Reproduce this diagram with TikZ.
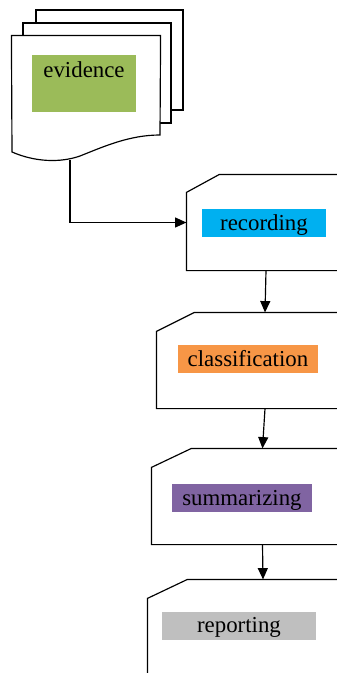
\documentclass[tikz,border=0pt]{standalone}
\usepackage{fontspec}
\setmainfont{Liberation Serif}
\usetikzlibrary{arrows.meta,calc,fit,positioning}
\definecolor{evgreen}{RGB}{155,187,89}
\definecolor{recblue}{RGB}{0,176,240}
\definecolor{clsorange}{RGB}{247,150,70}
\definecolor{sumpurple}{RGB}{128,100,162}
\definecolor{repgray}{RGB}{191,191,191}
\tikzstyle{frame} = [rectangle, inner sep=0pt, draw=none]
\tikzstyle{tag} = [rectangle, inner sep=0pt, text height=0.63cm, text depth=0.21cm, font=\fontsize{19.5}{23}\selectfont]
\tikzstyle{flow} = [-{Triangle[length=0.34cm, width=0.3cm]}]

\begin{document}
\begin{tikzpicture}[x=0.03cm, y=-0.03cm, line width=1pt]
    \clip (0,0) rectangle (337,673);

    \draw[fill=white] (36,23) -- (36,10) -- (183,10) -- (183,110) -- (171,110);
    \draw[fill=white] (23,36) -- (23,23) -- (171,23) -- (171,123) -- (160,123);
    \node [frame, fit={(12,36) (160,152)}] (ev) {};
    \draw[fill=white] (ev.north west) -- (ev.north east) -- (160,135)
        .. controls (130,135) and (105,146) .. (80,156)
        .. controls (60,163) and (35,162) .. (12,152) -- cycle;
    \coordinate (ev out) at (70,159.5);
    \node [tag, fill=evgreen, minimum width=3.12cm, text height=0.69cm, text depth=1.02cm, anchor=north] (evtag) at (84,54) {evidence};

    \node [frame, fit={(187,175) (345,270)}] (rec) {};
    \draw ($(rec.north west)+(0,18)$) -- ($(rec.north west)+(33,0)$) -- (rec.north east)
        -- (rec.south east) -- (rec.south west) -- cycle;
    \node [tag, fill=recblue, minimum width=3.72cm] (rectag) at (264,223) {recording};

    \node [frame, fit={(157,313) (373,408)}] (cls) {};
    \draw ($(cls.north west)+(0,19)$) -- ($(cls.north west)+(38,0)$) -- (cls.north east)
        -- (cls.south east) -- (cls.south west) -- cycle;
    \node [tag, fill=clsorange, minimum width=4.2cm] (clstag) at (248,359) {classification};

    \node [frame, fit={(152,449) (373,544)}] (sum) {};
    \draw ($(sum.north west)+(0,19)$) -- ($(sum.north west)+(40,0)$) -- (sum.north east)
        -- (sum.south east) -- (sum.south west) -- cycle;
    \node [tag, fill=sumpurple, minimum width=4.2cm] (sumtag) at (242,498) {summarizing};

    \node [frame, fit={(148,580) (378,700)}] (rep) {};
    \draw ($(rep.north west)+(0,19)$) -- ($(rep.north west)+(40,0)$) -- (rep.north east)
        -- (rep.south east) -- (rep.south west) -- cycle;
    \node [tag, fill=repgray, minimum width=4.62cm] (reptag) at (239,625.5) {reporting};

    \draw[flow] (ev out) |- (rec.west);
    \draw[flow] (rec.south) -- (cls.north);
    \draw[flow] (cls.south) -- (sum.north);
    \draw[flow] (sum.south) -- (rep.north);
\end{tikzpicture}
\end{document}
